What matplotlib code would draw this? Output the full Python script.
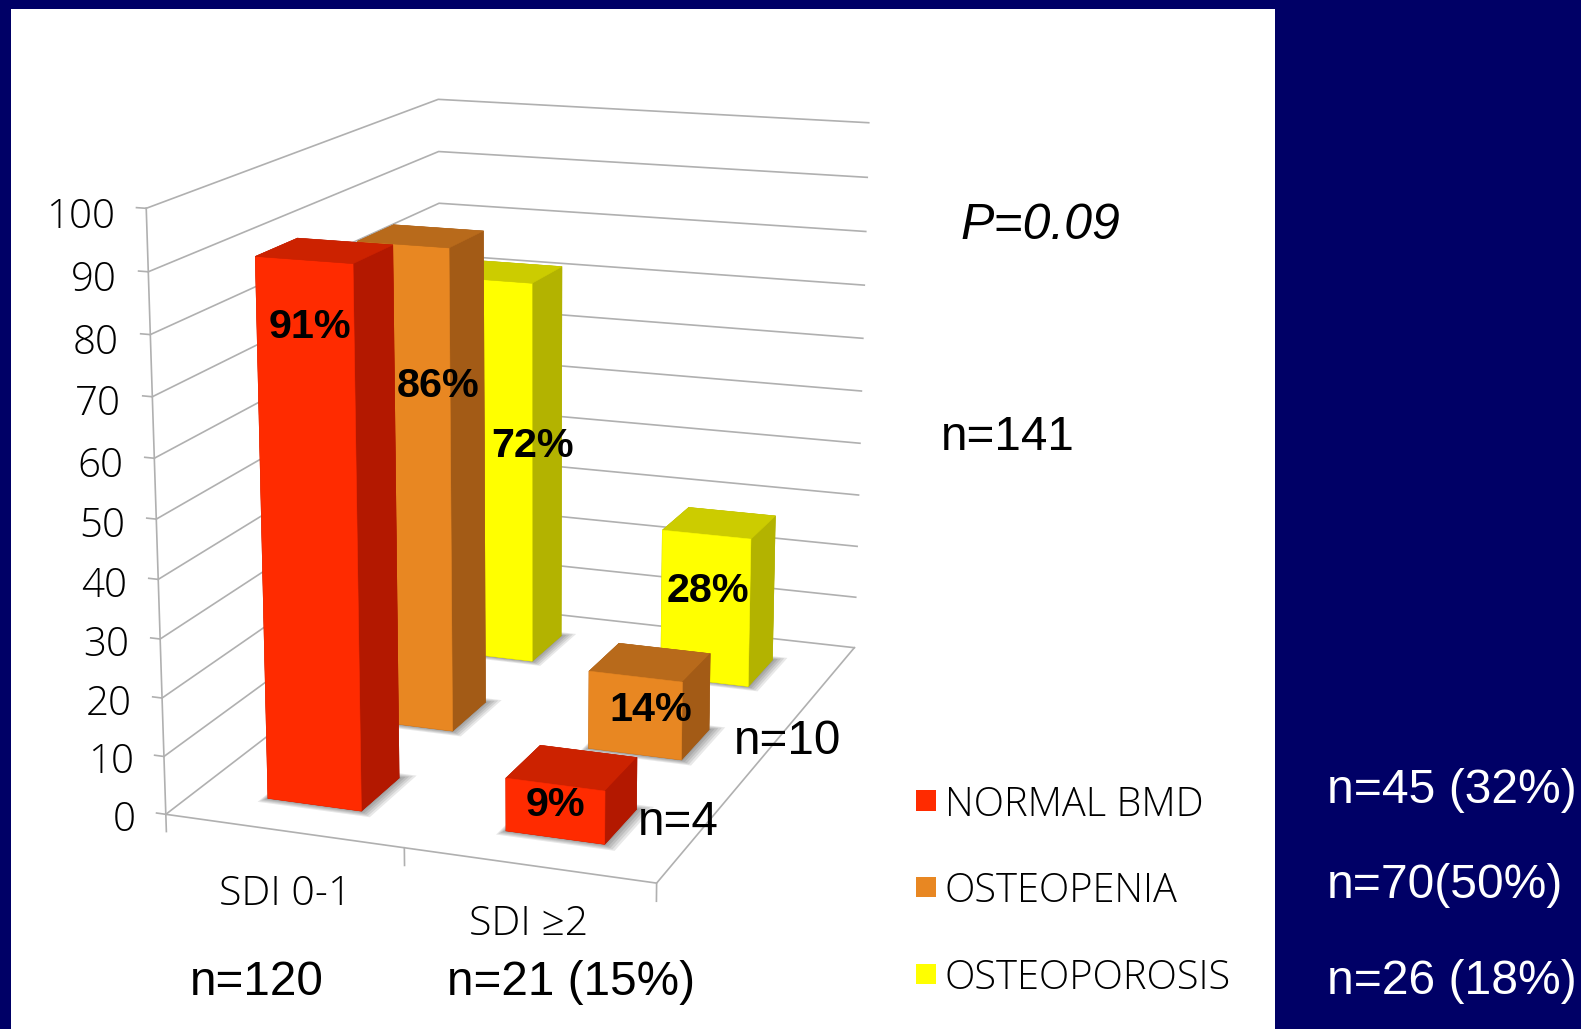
import matplotlib
matplotlib.use('Agg')
import matplotlib.pyplot as plt
from matplotlib.patches import Rectangle
from mpl_toolkits.mplot3d import proj3d
from mpl_toolkits.mplot3d.art3d import Poly3DCollection

categories = ['SDI 0-1', 'SDI ≥2']
series = ['NORMAL BMD', 'OSTEOPENIA', 'OSTEOPOROSIS']
normal_bmd = [91, 9]
osteopenia = [86, 14]
osteoporosis = [72, 28]
values = [normal_bmd, osteopenia, osteoporosis]
z_ticks = list(range(0, 101, 10))

front = ['#FF2B00', '#E88722', '#FFFF00']
top = ['#CC2200', '#B86A1B', '#CCCC00']
side = ['#B31800', '#A35B16', '#B3B300']

W, H = 1581, 1029
k = W / 1568
plt.rcParams['font.family'] = ['Liberation Sans', 'DejaVu Sans']
thin = ['Open Sans', 'DejaVu Sans']

fig = plt.figure(figsize=(W / 100, H / 100), dpi=100, facecolor='#000066')
fig.patches.append(Rectangle((11 / W, 0), 1264 / W, 1 - 9 / H, transform=fig.transFigure,
                             facecolor='white', edgecolor='none', zorder=-1))

L = 1007.7
ax = fig.add_axes([18.5 / W, 61.4 / H, L / W, L / H], projection='3d', computed_zorder=False)
ax.patch.set_visible(False)
ax.set_axis_off()
ax.view_init(14.82, -69.97)
ax.set_proj_type('persp', focal_length=0.574)
ax.set_box_aspect((0.839, 1.2171, 1))
ax.set_xlim3d(0, 1)
ax.set_ylim3d(0, 1)
ax.set_zlim3d(0, 100)


def label3d(x, y, z, s, **kw):
    # project by hand so the text sits in the 2D view coords
    px, py, _ = proj3d.proj_transform(x, y, z, ax.get_proj())
    ax.text2D(px, py, s, transform=ax.transData, color='black', family=thin,
              fontweight='light', zorder=2, **kw)


grid = '#B0B0B0'
for v in z_ticks:
    ax.plot([0, 0, 1], [0, 1, 1], [v, v, v], color=grid, lw=1.2, zorder=1)
    ax.plot([-0.02, 0], [0, 0], [v, v], color=grid, lw=1.2, zorder=1)
    label3d(-0.066, 0, v - 1.8, str(v), ha='right', va='center', fontsize=29)
ax.plot([0, 0], [0, 0], [0, 100], color=grid, lw=1.2, zorder=1)
ax.plot([0, 1, 1], [0, 0, 1], [0, 0, 0], color=grid, lw=1.2, zorder=1)
for x in [0, 0.5, 1]:
    ax.plot([x, x], [0, 0], [0, -3], color=grid, lw=1.2, zorder=1)
for i, name in enumerate(categories):
    label3d(0.25 + 0.5 * i, 0, [-11, -10][i], name, ha='center', va='center', fontsize=29.5)

bar_w = 0.1995
bar_d = 0.1324
z = 3
for s in [2, 1, 0]:
    for g in [0, 1]:
        x0 = g * 0.5 + (0.5 - bar_w) / 2
        y0 = s / 3 + (1 / 3 - bar_d) / 2
        # soft shadow on the floor, a few nested layers
        for m in [0.028, 0.022, 0.016, 0.010, 0.004]:
            xa, xb = x0 - m * 0.4, x0 + bar_w + m
            ya, yb = y0 - m * 0.6, y0 + bar_d + m * 0.6
            ax.add_collection3d(Poly3DCollection([[(xa, ya, 0), (xb, ya, 0), (xb, yb, 0), (xa, yb, 0)]],
                                                 facecolor=(0, 0, 0, 0.09), edgecolor='none', zorder=z))
            z += 1
        faces = [side[s], top[s], front[s], side[s], side[s], side[s]]
        ax.bar3d(x0, y0, 0, bar_w, bar_d, values[s][g], color=faces, edgecolor=faces, linewidth=0.4,
                 shade=False, zorder=z)
        z += 1
ax.set_xlim3d(0, 1)
ax.set_ylim3d(0, 1)
ax.set_zlim3d(0, 100)


def txt(x, y, s, size=34.3, ha='center', **kw):
    fig.text(x * k / W, 1 - y * k / H, s, fontsize=size, ha=ha, va='baseline', **kw)


for (x, y), v in zip([(307, 335), (435, 394), (528, 453), (551, 809), (645, 715), (702, 597)],
                     [normal_bmd[0], osteopenia[0], osteoporosis[0],
                      normal_bmd[1], osteopenia[1], osteoporosis[1]]):
    txt(x, y, f'{v}%', size=29.8, fontweight='bold', color='black')

txt(1032, 237, 'P=0.09', size=36, style='italic', color='black')
txt(1000, 446, 'n=141', color='black')
txt(781, 748, 'n=10', color='black')
txt(673, 828, 'n=4', color='black')
txt(255, 987, 'n=120', color='black')
txt(566, 987, 'n=21 (15%)', color='black')

for i, (name, y, lab) in enumerate(zip(series, [809, 895, 981],
                                       ['n=45 (32%)', 'n=70(50%)', 'n=26 (18%)'])):
    fig.patches.append(Rectangle((908 * k / W, 1 - (y - 5) * k / H), 20 * k / W, 20 * k / H,
                                 transform=fig.transFigure, facecolor=front[i], edgecolor='none', zorder=2))
    txt(937, y, name, size=28.6, ha='left', family=thin, fontweight='light', color='black')
    txt(1316, [796, 891, 986][i], lab, size=34.6, ha='left', color='white')

fig.savefig('out.png', dpi=100, facecolor=fig.get_facecolor())
